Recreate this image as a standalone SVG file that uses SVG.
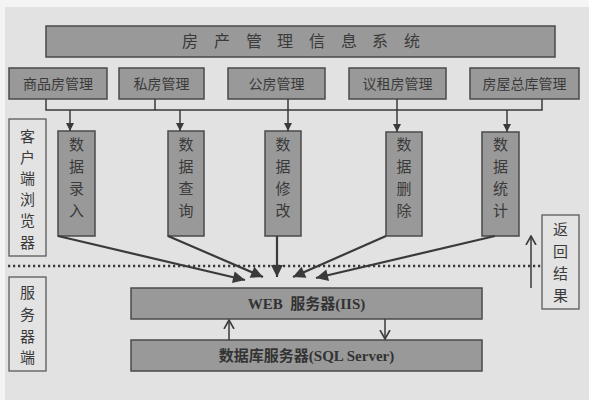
<svg xmlns="http://www.w3.org/2000/svg" width="589" height="400" viewBox="0 0 589 400">
<defs>
<marker id="tri" viewBox="0 0 10 10" refX="10" refY="5" markerWidth="10" markerHeight="8" markerUnits="userSpaceOnUse" orient="auto">
<path d="M0,0 L10,5 L0,10 Z" fill="#3a3a3a"/>
</marker>
<marker id="tri2" viewBox="0 0 10 10" refX="10" refY="5" markerWidth="14" markerHeight="12" markerUnits="userSpaceOnUse" orient="auto">
<path d="M0,0 L10,5 L0,10 Z" fill="#3a3a3a"/>
</marker>
<marker id="vee" viewBox="0 0 10 10" refX="9" refY="5" markerWidth="10" markerHeight="12" markerUnits="userSpaceOnUse" orient="auto">
<path d="M0,0 L9,5 L0,10" fill="none" stroke="#3a3a3a" stroke-width="1.6"/>
</marker>
</defs>
<style>
.box{fill:#999;stroke:#4a4a4a;stroke-width:1.5}
.lbl{fill:#e3e3e3;stroke:#5a5a5a;stroke-width:1.3}
.t{font-family:"Noto Sans CJK SC","Liberation Serif",serif;fill:#3a3a3a;text-anchor:middle}
.s{font-size:14px}
.v{font-size:15px}
.b{font-family:"Liberation Serif","Noto Sans CJK SC",serif;font-weight:bold;font-size:15px;fill:#333;text-anchor:middle}
.ln{fill:none;stroke:#3a3a3a;stroke-width:1.5}
.ar{fill:none;stroke:#3a3a3a;stroke-width:2.2}
</style>
<rect x="0" y="0" width="589" height="400" fill="#f4f4f4"/>
<rect x="5" y="7" width="584" height="393" fill="#e2e2e2"/>

<g id="title"><rect class="box" x="46" y="26" width="509" height="31"/><text class="t" x="190 222 254 285 317 349 380 412" y="47" font-size="16">房产管理信息系统</text></g>

<g id="n1"><rect class="box" x="9" y="68" width="98" height="31"/><text class="t s" x="58" y="89">商品房管理</text></g>
<g id="n2"><rect class="box" x="119" y="68" width="85" height="31"/><text class="t s" x="161.5" y="89">私房管理</text></g>
<g id="n3"><rect class="box" x="228" y="68" width="97" height="31"/><text class="t s" x="276.5" y="89">公房管理</text></g>
<g id="n4"><rect class="box" x="349" y="68" width="97" height="31"/><text class="t s" x="397.5" y="89">议租房管理</text></g>
<g id="n5"><rect class="box" x="470" y="68" width="109" height="31"/><text class="t s" x="524.5" y="89">房屋总库管理</text></g>

<g id="client"><rect class="lbl" x="9" y="119" width="37" height="137"/>
<text class="t v" x="27.5" y="142">客</text><text class="t v" x="27.5" y="163">户</text><text class="t v" x="27.5" y="184">端</text><text class="t v" x="27.5" y="205">浏</text><text class="t v" x="27.5" y="226">览</text><text class="t v" x="27.5" y="248">器</text></g>

<g id="d1"><rect class="box" x="58" y="131" width="37" height="105"/>
<text class="t v" x="76.5" y="150">数</text><text class="t v" x="76.5" y="172">据</text><text class="t v" x="76.5" y="194">录</text><text class="t v" x="76.5" y="216">入</text></g>
<g id="d2"><rect class="box" x="168" y="131" width="36" height="105"/>
<text class="t v" x="186" y="150">数</text><text class="t v" x="186" y="172">据</text><text class="t v" x="186" y="194">查</text><text class="t v" x="186" y="216">询</text></g>
<g id="d3"><rect class="box" x="265" y="131" width="36" height="105"/>
<text class="t v" x="283" y="150">数</text><text class="t v" x="283" y="172">据</text><text class="t v" x="283" y="194">修</text><text class="t v" x="283" y="216">改</text></g>
<g id="d4"><rect class="box" x="386" y="132" width="36" height="104"/>
<text class="t v" x="404" y="150">数</text><text class="t v" x="404" y="172">据</text><text class="t v" x="404" y="194">删</text><text class="t v" x="404" y="216">除</text></g>
<g id="d5"><rect class="box" x="482" y="132" width="37" height="104"/>
<text class="t v" x="500.5" y="150">数</text><text class="t v" x="500.5" y="172">据</text><text class="t v" x="500.5" y="194">统</text><text class="t v" x="500.5" y="216">计</text></g>

<g id="result"><rect class="lbl" x="542" y="215" width="37" height="94"/>
<text class="t v" x="560.5" y="235">返</text><text class="t v" x="560.5" y="257">回</text><text class="t v" x="560.5" y="279">结</text><text class="t v" x="560.5" y="301">果</text></g>

<g id="server"><rect class="lbl" x="9" y="277" width="37" height="94"/>
<text class="t v" x="27.5" y="298">服</text><text class="t v" x="27.5" y="320">务</text><text class="t v" x="27.5" y="342">器</text><text class="t v" x="27.5" y="363">端</text></g>

<g id="web"><rect class="box" x="131" y="288" width="351" height="31"/><text class="b" x="306.5" y="309" xml:space="preserve">WEB  服务器(IIS)</text></g>
<g id="db"><rect class="box" x="131" y="340" width="351" height="31"/><text class="b" x="306.5" y="361" font-size="16">数据库服务器(SQL Server)</text></g>

<g id="connectors">
<path class="ln" d="M46,99 V110 H542 V99 M155,99 V110 M288,99 V110 M397,99 V110"/>
<line class="ln" x1="70" y1="110" x2="70" y2="131" marker-end="url(#tri)"/>
<line class="ln" x1="180" y1="110" x2="180" y2="131" marker-end="url(#tri)"/>
<line class="ln" x1="288" y1="110" x2="288" y2="131" marker-end="url(#tri)"/>
<line class="ln" x1="397" y1="110" x2="397" y2="132" marker-end="url(#tri)"/>
<line class="ln" x1="507" y1="110" x2="507" y2="132" marker-end="url(#tri)"/>
<line x1="8" y1="266" x2="541" y2="266" stroke="#3a3a3a" stroke-width="2.5" stroke-dasharray="2.2 2.8"/>
<line class="ar" x1="58" y1="236" x2="245" y2="280" marker-end="url(#tri2)"/>
<line class="ar" x1="168" y1="236" x2="263" y2="277" marker-end="url(#tri2)"/>
<line class="ar" x1="277" y1="236" x2="277" y2="277" marker-end="url(#tri2)"/>
<line class="ar" x1="386" y1="236" x2="293" y2="277" marker-end="url(#tri2)"/>
<line class="ar" x1="495" y1="236" x2="316" y2="278" marker-end="url(#tri2)"/>
<line class="ln" x1="229" y1="340" x2="229" y2="320" marker-end="url(#vee)"/>
<line class="ln" x1="385" y1="319" x2="385" y2="339" marker-end="url(#vee)"/>
<line class="ln" x1="531" y1="288" x2="531" y2="236" marker-end="url(#vee)"/>
</g>
</svg>
